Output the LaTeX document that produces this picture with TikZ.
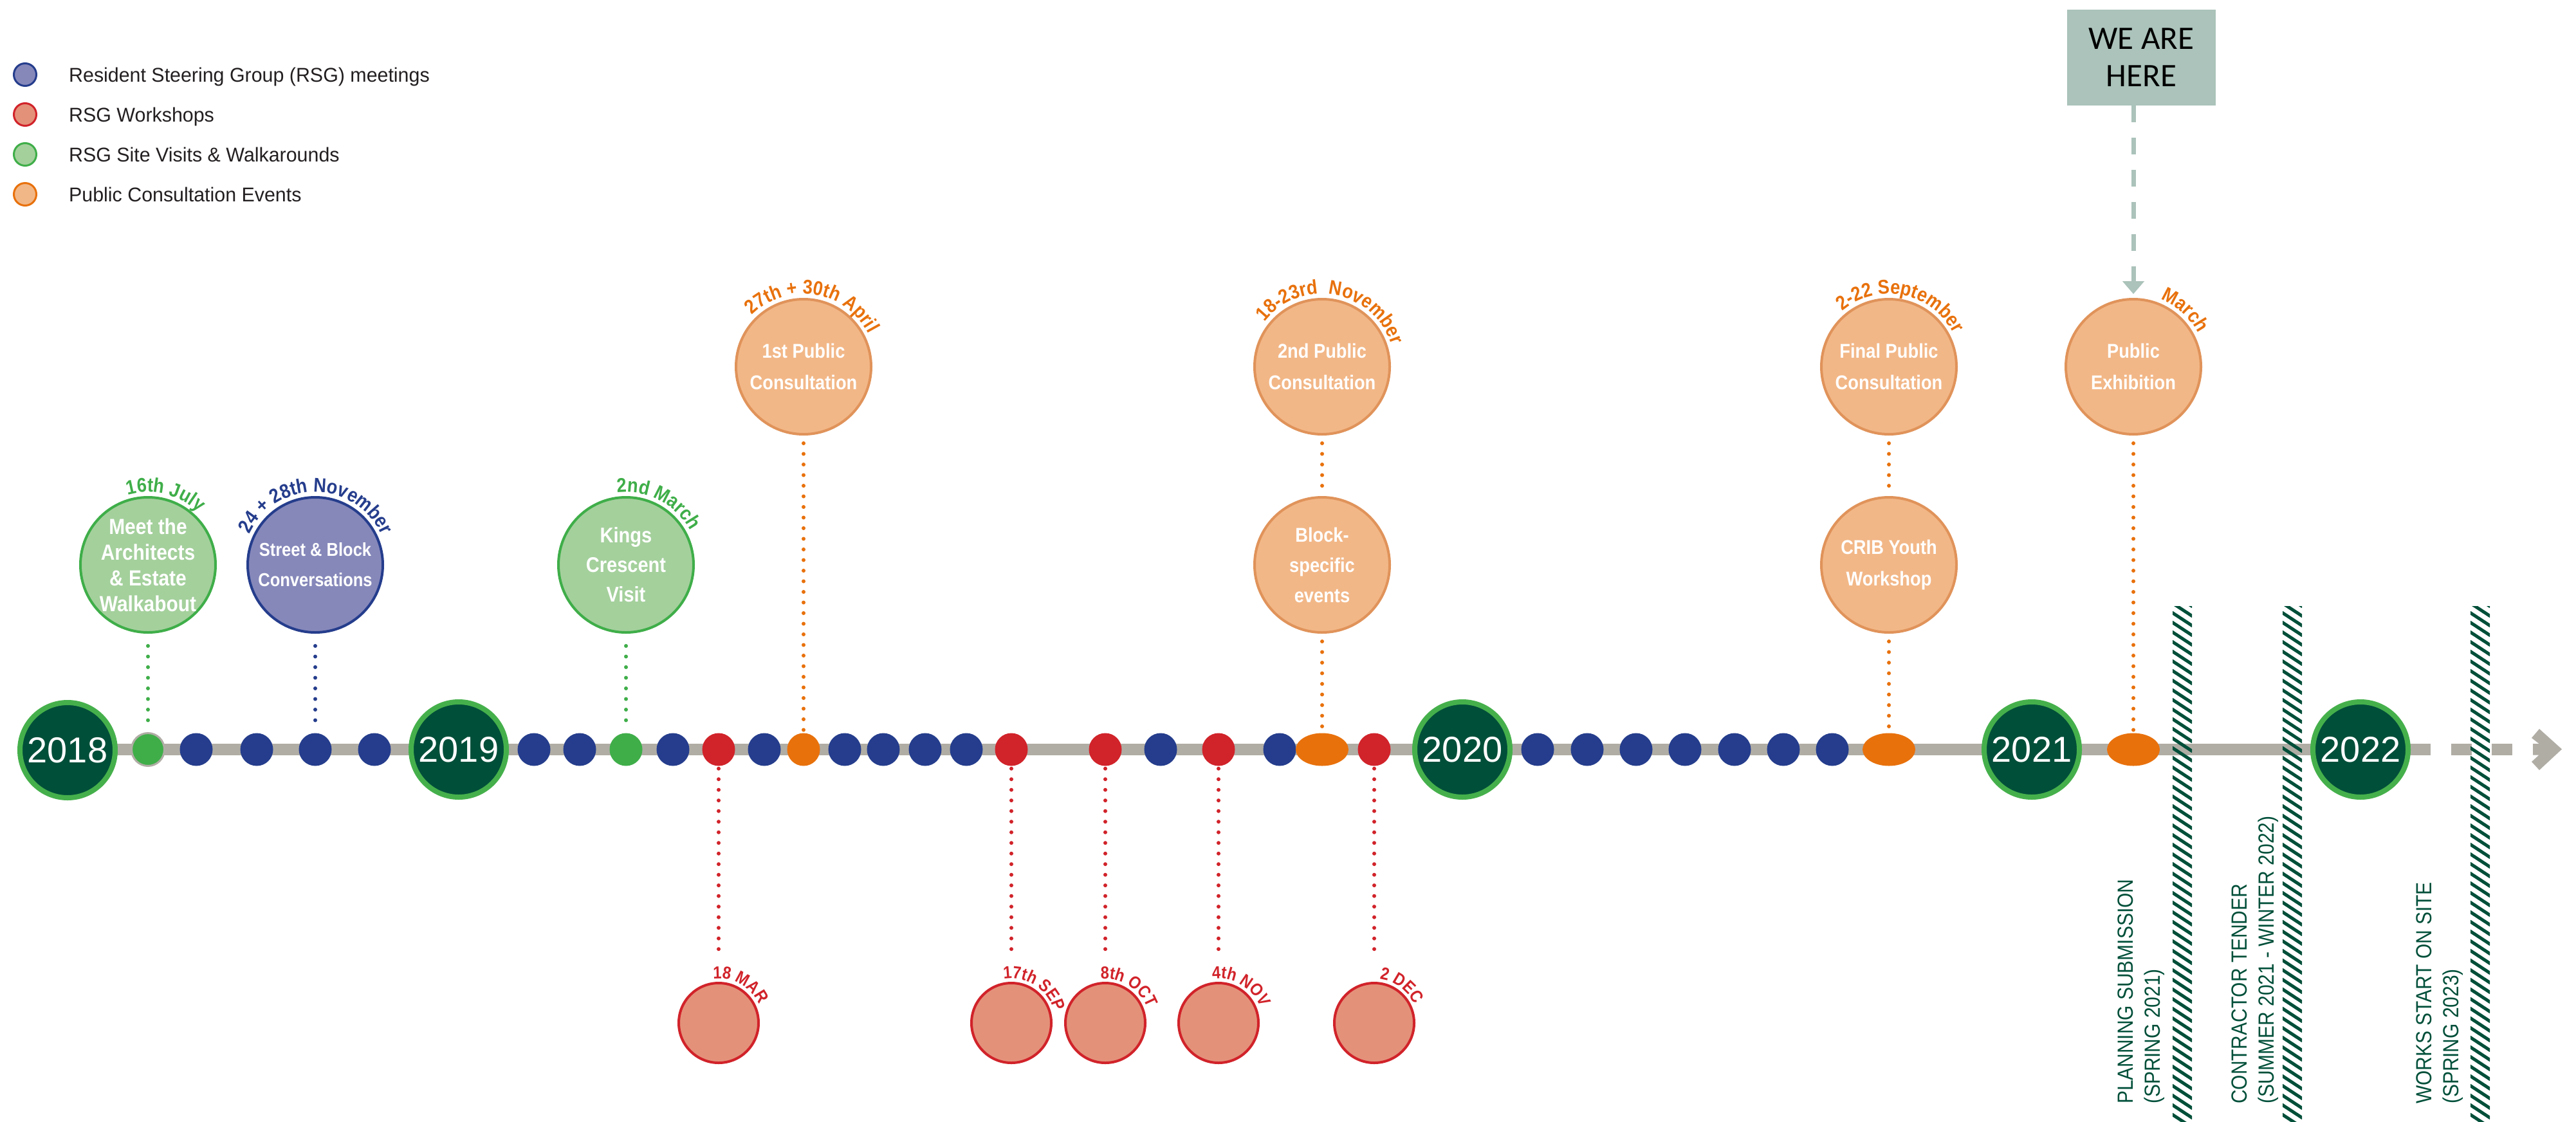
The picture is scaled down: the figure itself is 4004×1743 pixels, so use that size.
\documentclass[tikz,border=0pt]{standalone}
\usepackage{fontspec}
\setmainfont{Liberation Sans}
\newfontfamily\cnd[FakeStretch=0.88]{Liberation Sans}
\newfontfamily\lgf[FakeStretch=0.98]{Liberation Sans}
\newfontfamily\wefont{Carlito}
\usetikzlibrary{decorations.text,shapes.geometric,arrows.meta}
\definecolor{yeargreen}{HTML}{004F39}
\definecolor{lightgreen}{HTML}{45B04B}
\definecolor{axisgrey}{HTML}{B0ADA5}
\definecolor{navy}{HTML}{253D8C}
\definecolor{bluefill}{HTML}{8688BA}
\definecolor{redc}{HTML}{D1232A}
\definecolor{redfill}{HTML}{E4917A}
\definecolor{greenc}{HTML}{3FAE49}
\definecolor{greenfill}{HTML}{A4D09C}
\definecolor{orangec}{HTML}{E8710C}
\definecolor{orangefill}{HTML}{F2B787}
\definecolor{orangeedge}{HTML}{E0935A}
\definecolor{herebox}{HTML}{ABC3BA}
\definecolor{textgray}{HTML}{231F20}
\newcommand\datefontA{\cnd\bfseries\fontsize{31}{31}\selectfont}
\newcommand\datefontB{\cnd\bfseries\fontsize{27}{27}\selectfont}
\newcommand\arclabel[6]{\path[decorate,decoration={text along path,text align=left,text={|#5\color{#4}|#6}}] (#1.center) ++(#3:#2) arc[start angle=#3,delta angle=-200,radius=#2];}
\begin{document}
\begin{tikzpicture}[x=1pt,y=-1pt,
  axisbar/.style={axisgrey,line width=18pt},
  year/.style={circle,fill=yeargreen,draw=lightgreen,line width=8pt,minimum size=148pt,inner sep=0pt,text=white,font=\fontsize{56}{60}\selectfont},
  dot/.style={circle,minimum size=51pt,inner sep=0pt},
  oval/.style={ellipse,minimum width=82pt,minimum height=51pt,inner sep=0pt,fill=orangec},
  bubble/.style={circle,minimum size=210pt,inner sep=0pt,line width=4pt,align=center,text=white},
  greenbub/.style={bubble,fill=greenfill,draw=greenc},
  bluebub/.style={bubble,fill=bluefill,draw=navy},
  orangebub/.style={bubble,fill=orangefill,draw=orangeedge,font=\cnd\bfseries\fontsize{31}{49}\selectfont},
  redbub/.style={circle,minimum size=124pt,inner sep=0pt,line width=4pt,fill=redfill,draw=redc},
  dotline/.style={line width=6pt,line cap=round,dash pattern=on 0pt off 16.5pt},
  legdot/.style={circle,minimum size=35pt,inner sep=0pt,line width=3pt},
  legtext/.style={anchor=base west,inner sep=0pt,text=textgray,font=\lgf\fontsize{31}{31}\selectfont},
  vlabel/.style={rotate=90,anchor=north west,align=left,inner sep=0pt,text=yeargreen,font=\cnd\fontsize{34}{42}\selectfont},
  hatch/.style={yeargreen,line width=5pt}]
\useasboundingbox (0,0) rectangle (4004,1743);
\fill[white] (0,0) rectangle (4004,1743);

% legend
\node[legdot,fill=bluefill,draw=navy] (l1) at (39,116) {};
\node[legtext] (lt1) at (107,127) {Resident Steering Group (RSG) meetings};
\node[legdot,fill=redfill,draw=redc] (l2) at (39,178) {};
\node[legtext] (lt2) at (107,189) {RSG Workshops};
\node[legdot,fill=greenfill,draw=greenc] (l3) at (39,240) {};
\node[legtext] (lt3) at (107,251) {RSG Site Visits \& Walkarounds};
\node[legdot,fill=orangefill,draw=orangec] (l4) at (39,302) {};
\node[legtext] (lt4) at (107,313) {Public Consultation Events};

% axis
\coordinate (barstart) at (105,1165);
\coordinate (barend) at (3778,1165);
\draw[axisbar] (barstart) -- (barend);
\coordinate (d1a) at (3810,1165); \coordinate (d1b) at (3842,1165);
\coordinate (d2a) at (3873,1165); \coordinate (d2b) at (3905,1165);
\draw[axisbar] (d1a) -- (d1b);
\draw[axisbar] (d2a) -- (d2b);
\fill[axisgrey] (3935,1147) -- (3947,1133) -- (3982,1164.5) -- (3947,1197) -- (3935,1184) -- (3946.5,1173.5) -- (3937,1173.5) -- (3937,1156) -- (3946.5,1156) -- cycle;

% hatch bands
\foreach \xc in {3392,3563,3855} {
  \begin{scope}
    \clip (\xc-15,942) rectangle (\xc+15,1743);
    \foreach \yy in {922,937,...,1750} \draw[hatch] (\xc-16,\yy) -- (\xc+16,\yy+21);
  \end{scope}
}

% year circles
\node[year] (y18) at (105,1166) {2018};
\node[year] (y19) at (713,1165) {2019};
\node[year] (y20) at (2273,1165) {2020};
\node[year] (y21) at (3158,1165) {2021};
\node[year] (y22) at (3669,1165) {2022};

% axis dots
\foreach \x [count=\i] in {305,399,490,582,830,901,1046,1188,1313,1373,1438,1502,1804,1989,2390,2467,2543,2619,2696,2772,2848}
  \node[dot,fill=navy] (b\i) at (\x,1165) {};
\foreach \x [count=\i] in {1117,1572,1718,1894,2136}
  \node[dot,fill=redc] (r\i) at (\x,1165) {};
\node[dot,fill=greenc,draw=axisgrey,line width=3pt] (g1) at (230,1165) {};
\node[dot,fill=greenc] (g2) at (973,1165) {};
\node[dot,fill=orangec] (o1) at (1249,1165) {};
\node[oval] (oe1) at (2055,1165) {};
\node[oval] (oe2) at (2936,1165) {};
\node[oval] (oe3) at (3316,1165) {};

% upper bubbles
\node[greenbub,font=\cnd\bfseries\fontsize{34}{40}\selectfont] (meet) at (230,878) {Meet the\\Architects\\\& Estate\\Walkabout};
\node[bluebub,font=\cnd\bfseries\fontsize{29}{47}\selectfont] (street) at (490,878) {Street \& Block\\Conversations};
\node[greenbub,font=\cnd\bfseries\fontsize{33}{46}\selectfont] (kings) at (973,878) {Kings\\Crescent\\Visit};
\node[orangebub] (pub1) at (1249,570) {1st Public\\Consultation};
\node[orangebub] (pub2) at (2055,570) {2nd Public\\Consultation};
\node[orangebub,font=\cnd\bfseries\fontsize{31}{47}\selectfont] (block) at (2055,878) {Block-\\specific\\events};
\node[orangebub] (final) at (2936,570) {Final Public\\Consultation};
\node[orangebub] (crib) at (2936,878) {CRIB Youth\\Workshop};
\node[orangebub] (pubex) at (3316,570) {Public\\Exhibition};

% lower bubbles
\foreach \x [count=\i] in {1117,1572,1718,1894,2136}
  \node[redbub] (w\i) at (\x,1590) {};

% connectors
\draw[dotline,greenc,shorten <=19pt,shorten >=4pt] (meet) -- (g1);
\draw[dotline,navy,shorten <=19pt,shorten >=4pt] (street) -- (b3);
\draw[dotline,greenc,shorten <=19pt,shorten >=4pt] (kings) -- (g2);
\draw[dotline,orangec,shorten <=12pt,shorten >=3pt] (pub1) -- (o1);
\draw[dotline,orangec,shorten <=12pt,shorten >=10pt] (pub2) -- (block);
\draw[dotline,orangec,shorten <=12pt,shorten >=3pt] (block) -- (oe1);
\draw[dotline,orangec,shorten <=12pt,shorten >=10pt] (final) -- (crib);
\draw[dotline,orangec,shorten <=12pt,shorten >=3pt] (crib) -- (oe2);
\draw[dotline,orangec,shorten <=12pt,shorten >=3pt] (pubex) -- (oe3);
\foreach \i in {1,...,5}
  \draw[dotline,redc,shorten <=4pt,shorten >=45pt] (r\i) -- (w\i);

% date labels
\arclabel{meet}{113pt}{106}{greenc}{\datefontA}{16th July}
\arclabel{street}{113pt}{155}{navy}{\datefontA}{24 + 28th November}
\arclabel{kings}{113pt}{97}{greenc}{\datefontA}{2nd March}
\arclabel{pub1}{113pt}{135}{orangec}{\datefontA}{27th + 30th April}
\arclabel{pub2}{113pt}{142}{orangec}{\datefontA}{18-23rd~ November}
\arclabel{final}{113pt}{130}{orangec}{\datefontA}{2-22 September}
\arclabel{pubex}{113pt}{68}{orangec}{\datefontA}{March}
\arclabel{w1}{69pt}{97}{redc}{\datefontB}{18 MAR}
\arclabel{w2}{69pt}{100}{redc}{\datefontB}{17th SEP}
\arclabel{w3}{69pt}{96}{redc}{\datefontB}{8th OCT}
\arclabel{w4}{69pt}{98}{redc}{\datefontB}{4th NOV}
\arclabel{w5}{69pt}{83}{redc}{\datefontB}{2 DEC}

% we are here
\node[fill=herebox,minimum width=231pt,minimum height=149pt,inner sep=0pt,align=center,text=black,font=\wefont\fontsize{51}{58}\selectfont] (here) at (3328.5,89.5) {WE ARE\\HERE};
\draw[herebox,line width=7pt,dash pattern=on 26pt off 24pt,shorten >=6pt,-{Triangle[width=33pt,length=20pt]}] (here.south -| pubex.north) -- (pubex.north);

% vertical labels
\node[vlabel] (plan) at (3292,1716) {PLANNING SUBMISSION\\(SPRING 2021)};
\node[vlabel] (tender) at (3469,1716) {CONTRACTOR TENDER\\(SUMMER 2021 - WINTER 2022)};
\node[vlabel] (works) at (3756,1716) {WORKS START ON SITE\\(SPRING 2023)};
\end{tikzpicture}
\end{document}
